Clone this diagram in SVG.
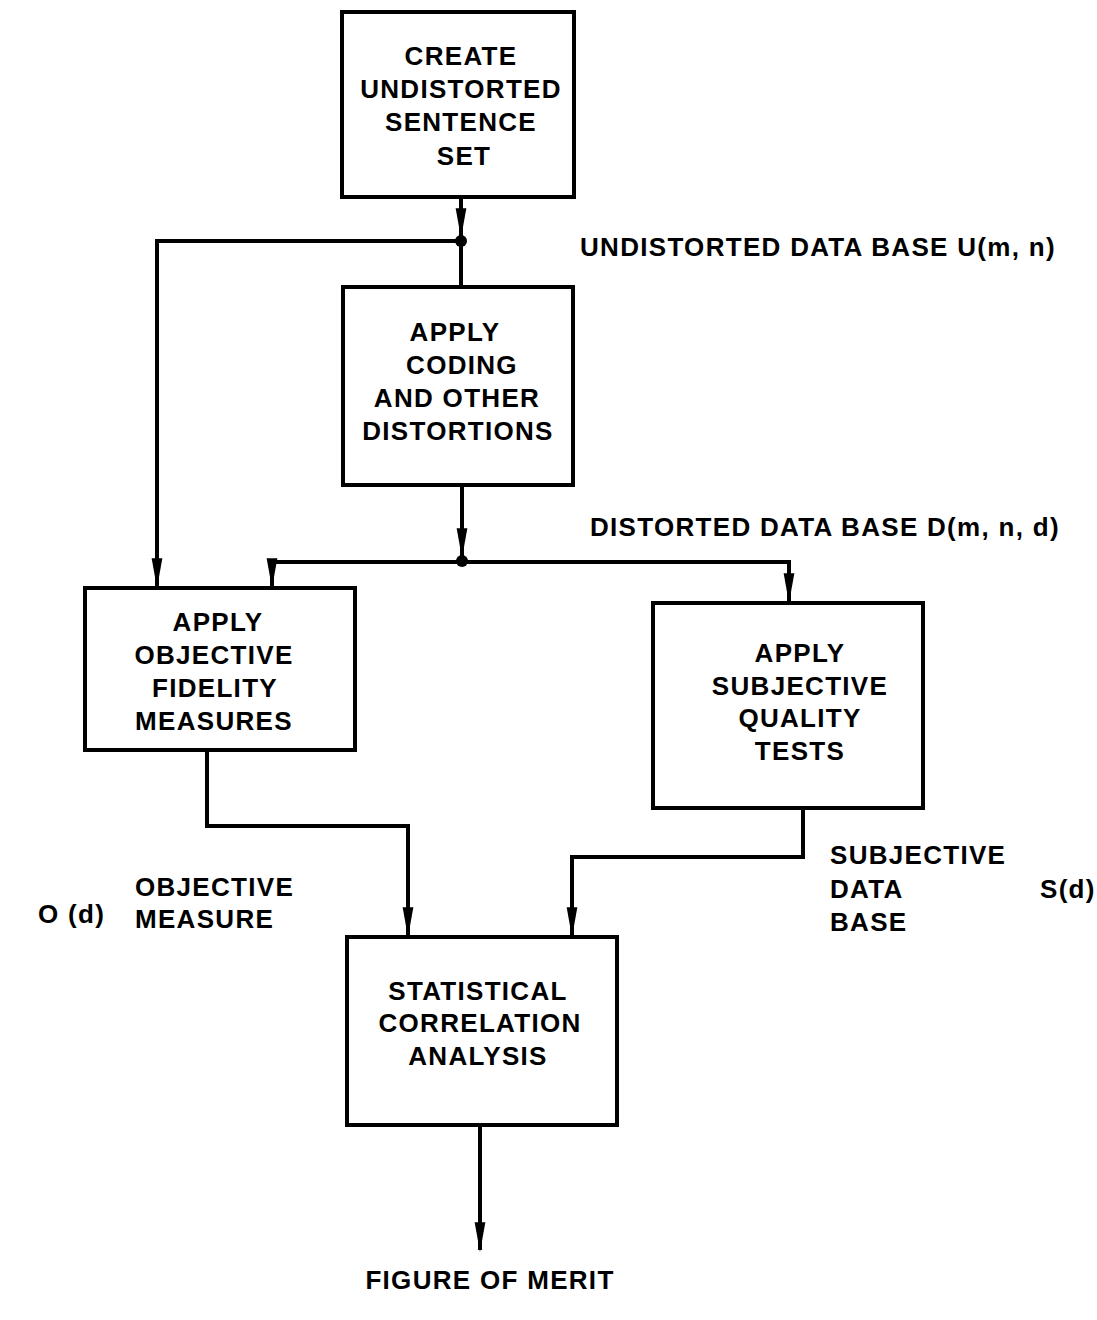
<svg xmlns="http://www.w3.org/2000/svg" width="1097" height="1320" viewBox="0 0 1097 1320">
<style>
.box{fill:#fff;stroke:#000;stroke-width:4}
.ln{fill:none;stroke:#000;stroke-width:4}
text{font-family:"Liberation Sans",Arial,sans-serif;font-weight:bold;font-size:26px;letter-spacing:1.3px;fill:#000}
.c{text-anchor:middle}
</style>
<defs>
<marker id="ah" markerUnits="userSpaceOnUse" markerWidth="30" markerHeight="14" refX="26" refY="6" orient="auto" viewBox="0 0 28 12">
<path d="M0,1 L28,6 L0,11 Z" fill="#000"/>
</marker>
</defs>
<rect width="1097" height="1320" fill="#fff"/>
<g id="connectors">
<path class="ln" d="M461,197 V236" marker-end="url(#ah)"/>
<path class="ln" d="M461,241 V287"/>
<path class="ln" d="M461,241 H157 V586" marker-end="url(#ah)"/>
<circle cx="461" cy="241" r="6" fill="#000"/>
<path class="ln" d="M462,485 V556" marker-end="url(#ah)"/>
<circle cx="462" cy="561" r="6" fill="#000"/>
<path class="ln" d="M462,562 H272 V586" marker-end="url(#ah)"/>
<path class="ln" d="M462,562 H789 V601" marker-end="url(#ah)"/>
<path class="ln" d="M207,750 V826 H408 V935" marker-end="url(#ah)"/>
<path class="ln" d="M803,808 V857 H572 V935" marker-end="url(#ah)"/>
<path class="ln" d="M480,1125 V1250" marker-end="url(#ah)"/>
</g>
<g id="n1"><rect class="box" x="342" y="12" width="232" height="185"/>
<text class="c" x="461" y="65">CREATE</text><text class="c" x="461" y="98">UNDISTORTED</text><text class="c" x="461" y="131">SENTENCE</text><text class="c" x="464" y="165">SET</text></g>
<g id="n2"><rect class="box" x="343" y="287" width="230" height="198"/>
<text class="c" x="455" y="341">APPLY</text><text class="c" x="462" y="374">CODING</text><text class="c" x="457" y="407">AND OTHER</text><text class="c" x="458" y="440">DISTORTIONS</text></g>
<g id="n3"><rect class="box" x="85" y="588" width="270" height="162"/>
<text class="c" x="218" y="631">APPLY</text><text class="c" x="214" y="664">OBJECTIVE</text><text class="c" x="215" y="697">FIDELITY</text><text class="c" x="214" y="730">MEASURES</text></g>
<g id="n4"><rect class="box" x="653" y="603" width="270" height="205"/>
<text class="c" x="800" y="662">APPLY</text><text class="c" x="800" y="695">SUBJECTIVE</text><text class="c" x="800" y="727">QUALITY</text><text class="c" x="800" y="760">TESTS</text></g>
<g id="n5"><rect class="box" x="347" y="937" width="270" height="188"/>
<text class="c" x="478" y="1000">STATISTICAL</text><text class="c" x="480" y="1032">CORRELATION</text><text class="c" x="478" y="1065">ANALYSIS</text></g>
<g id="labels">
<text x="580" y="256">UNDISTORTED DATA BASE U(m, n)</text>
<text x="590" y="536">DISTORTED DATA BASE D(m, n, d)</text>
<text x="38" y="923">O (d)</text>
<text x="135" y="896">OBJECTIVE</text>
<text x="135" y="928">MEASURE</text>
<text x="830" y="864">SUBJECTIVE</text>
<text x="830" y="898">DATA</text>
<text x="830" y="931">BASE</text>
<text x="1040" y="898">S(d)</text>
<text class="c" x="490" y="1289">FIGURE OF MERIT</text>
</g>
</svg>
